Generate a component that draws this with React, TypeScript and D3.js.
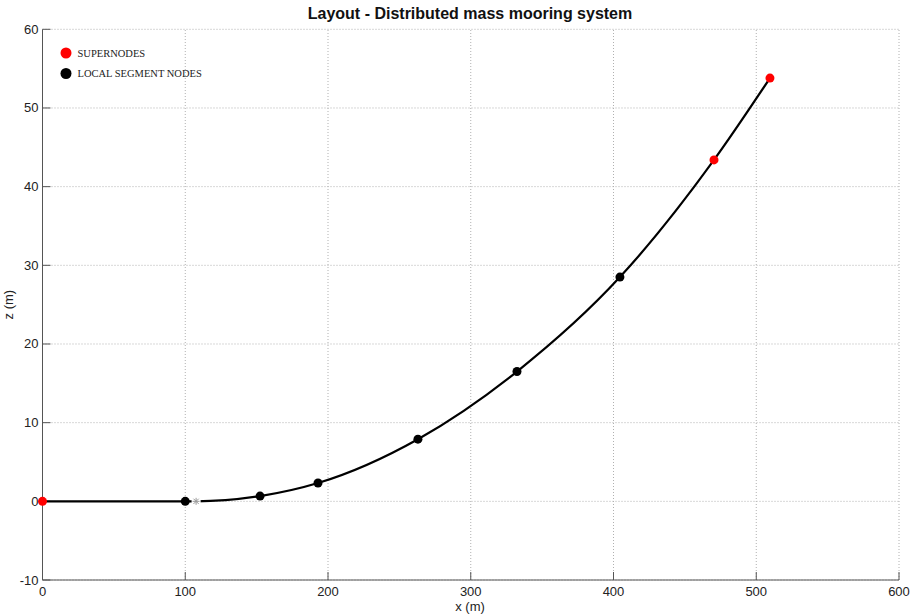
import React from "react";
import * as d3 from "d3";

const xTicks = [0, 100, 200, 300, 400, 500, 600];
const yTicks = [-10, 0, 10, 20, 30, 40, 50, 60];
const curveX = [0, 100, 107.6, 152.4, 193, 263, 332.4, 404.5, 470.4, 509.6];
const curveZ = [0, 0, 0, 0.67, 2.33, 7.9, 16.5, 28.5, 43.4, 53.8];
const superX = [0, 470.4, 509.6];
const superZ = [0, 43.4, 53.8];
const localX = [100, 152.4, 193, 263, 332.4, 404.5];
const localZ = [0, 0.67, 2.33, 7.9, 16.5, 28.5];
const starX = [107.6];
const starZ = [0];
const legendLabels = ["SUPERNODES", "LOCAL SEGMENT NODES"];
const legendColors = ["#ff0000", "#000000"];

export default function App() {
  const W = 910, H = 616;
  const x = d3.scaleLinear().domain([0, 600]).range([42.5, 899]);
  const y = d3.scaleLinear().domain([-10, 60]).range([580, 29.3]);
  const line = d3
    .line<number>()
    .x((_, i) => x(curveX[i]))
    .y((_, i) => y(curveZ[i]))
    .curve(d3.curveMonotoneX);
  const path = line(curveX) || "";
  const font = "Arial, 'Liberation Sans', Helvetica, sans-serif";
  const sr = 3.5;
  return (
    <svg width={W} height={H} style={{ position: "absolute", left: 0, top: 0, background: "#fff" }}>
      <rect width={W} height={H} fill="#fff" />
      {xTicks.map((t) => (
        <line key={"gx" + t} x1={x(t)} x2={x(t)} y1={y(-10)} y2={y(60)} stroke="#b0b0b0" strokeWidth={1} strokeDasharray="1,2" />
      ))}
      {yTicks.map((t) => (
        <line key={"gy" + t} x1={x(0)} x2={x(600)} y1={y(t)} y2={y(t)} stroke="#b0b0b0" strokeWidth={1} strokeDasharray="1,2" />
      ))}
      <line x1={x(0)} x2={x(600)} y1={y(-10)} y2={y(-10)} stroke="#555" strokeWidth={1} />
      <line x1={x(0)} x2={x(0)} y1={y(-10)} y2={y(60)} stroke="#555" strokeWidth={1} />
      {xTicks.map((t) => (
        <g key={"tx" + t}>
          <line x1={x(t)} x2={x(t)} y1={y(-10)} y2={y(-10) - 8} stroke="#555" />
          <text x={x(t)} y={y(-10) + 16} fontSize={13} fontFamily={font} textAnchor="middle" fill="#222">{t}</text>
        </g>
      ))}
      {yTicks.map((t) => (
        <g key={"ty" + t}>
          <line x1={x(0)} x2={x(0) + 8} y1={y(t)} y2={y(t)} stroke="#555" />
          <text x={x(0) - 4} y={y(t) + 4.5} fontSize={13} fontFamily={font} textAnchor="end" fill="#222">{t}</text>
        </g>
      ))}
      <path d={path} fill="none" stroke="#000" strokeWidth={2.2} />
      {starX.map((v, i) => {
        const cx = x(v), cy = y(starZ[i]);
        return (
          <g key={"s" + i} stroke="#999" strokeWidth={1}>
            <rect x={cx - sr - 1} y={cy - sr - 1} width={2 * sr + 2} height={2 * sr + 2} fill="#fff" stroke="none" />
            <line x1={cx - sr} x2={cx + sr} y1={cy} y2={cy} />
            <line x1={cx} x2={cx} y1={cy - sr} y2={cy + sr} />
            <line x1={cx - sr * 0.75} x2={cx + sr * 0.75} y1={cy - sr * 0.75} y2={cy + sr * 0.75} />
            <line x1={cx - sr * 0.75} x2={cx + sr * 0.75} y1={cy + sr * 0.75} y2={cy - sr * 0.75} />
          </g>
        );
      })}
      {localX.map((v, i) => (
        <circle key={"l" + i} cx={x(v)} cy={y(localZ[i])} r={4.5} fill="#000" />
      ))}
      {superX.map((v, i) => (
        <circle key={"p" + i} cx={x(v)} cy={y(superZ[i])} r={4.5} fill="#ff0000" />
      ))}
      {legendLabels.map((l, i) => (
        <g key={"lg" + i}>
          <circle cx={66} cy={53 + i * 20.5} r={5.5} fill={legendColors[i]} />
          <text x={77.5} y={56.5 + i * 20.5} fontSize={10.5} fontFamily="'Liberation Serif', 'Times New Roman', serif" fill="#222">{l}</text>
        </g>
      ))}
      <text x={470} y={19} fontSize={16} fontWeight="bold" fontFamily={font} textAnchor="middle" fill="#111">Layout - Distributed mass mooring system</text>
      <text x={470} y={611} fontSize={13} fontFamily={font} textAnchor="middle" fill="#222">x (m)</text>
      <text transform={`translate(13,${y(25)}) rotate(-90)`} fontSize={13} fontFamily={font} textAnchor="middle" fill="#222">z (m)</text>
    </svg>
  );
}
